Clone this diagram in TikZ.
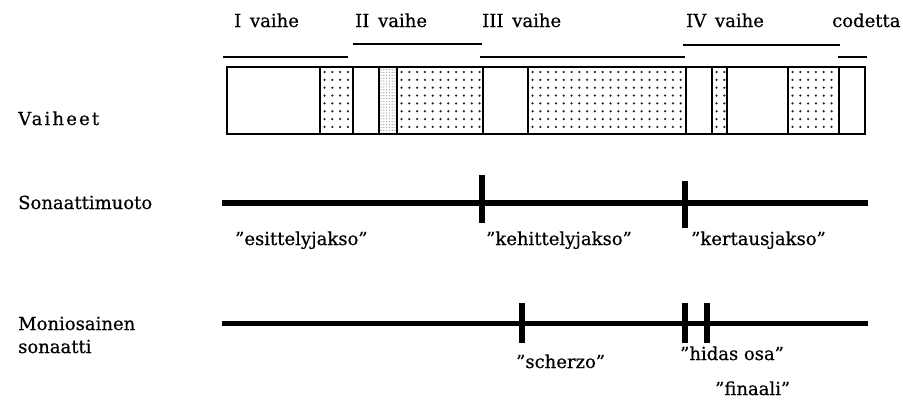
\documentclass[tikz,border=0pt]{standalone}
\usepackage{fontspec}
\setmainfont[FakeBold=0.6,BoldFont=*]{DejaVu Serif}
\newfontfamily\spaced[LetterSpace=12,FakeBold=0.6]{DejaVu Serif}
\begin{document}
\begin{tikzpicture}[x=1pt,y=-1pt,
  lab/.style={inner sep=0pt, anchor=base west, font=\fontsize{18}{21}\selectfont},
  bracket/.style={line width=2.4pt},
  boxline/.style={line width=1.9pt},
  axis/.style={line width=5.5pt},
  tick/.style={line width=6pt},
  dotc/.style={fill=black!85}
]
\useasboundingbox (0,0) rectangle (903,407);

% top labels
\node[lab] (v1) at (234,27) {I\, vaihe};
\node[lab] (v2) at (355,27) {II\, vaihe};
\node[lab] (v3) at (482,27) {III\, vaihe};
\node[lab] (v4) at (686,27) {IV\, vaihe};
\node[lab] (cod) at (832,27) {codetta};

% brackets
\draw[bracket] (223,57) -- (348,57);
\draw[bracket] (353,44) -- (482,44);
\draw[bracket] (480,57) -- (685,57);
\draw[bracket] (683,45) -- (840,45);
\draw[bracket] (838,57) -- (867,57);

% dotted fills
\newcommand{\dotsin}[2]{%
  \begin{scope}
    \clip (#1,68) rectangle (#2,133);
    \foreach \xx in {0,...,30}{
      \foreach \yy in {0,...,7}{
        \fill[dotc] ({#1+4.5+\xx*7.8},{72+\yy*7.85}) circle (1.25pt);
      }
    }
  \end{scope}}
\dotsin{320}{353}
\dotsin{397}{483}
\dotsin{528}{686}
\dotsin{712}{727}
\dotsin{788}{839}
% light fine strip
\begin{scope}
  \clip (379.3,68) rectangle (397,133);
  \foreach \xx in {0,...,6}{
    \foreach \yy in {0,...,22}{
      \fill[black!35] ({381+\xx*2.8},{69.5+\yy*2.9}) circle (0.7pt);
    }
  }
\end{scope}

% box
\draw[boxline] (227,67) rectangle (865,134);
\foreach \xx in {320,352.7,379.3,397,483,528,686,712.3,726.7,788.3,839.3}{
  \draw[boxline] (\xx,67) -- (\xx,134);
}

% left labels
\node[lab] (vai) at (18,125) {\spaced Vaiheet};
\node[lab] (son) at (18,209) {Sonaattimuoto};
\node[lab] (mon) at (18,330) {Moniosainen};
\node[lab] (son2) at (18,353) {sonaatti};

% sonata form line
\coordinate (s0) at (222,203);
\coordinate (s1) at (868,203);
\draw[axis] (s0) -- (s1);
\draw[tick] (481.7,175) -- (481.7,223);
\draw[tick] (685,181) -- (685,228);
\node[lab] (esi) at (235,245) {”esittelyjakso”};
\node[lab] (keh) at (486,245) {”kehittelyjakso”};
\node[lab] (ker) at (691,245) {”kertausjakso”};

% one-movement sonata line
\coordinate (m0) at (222,323.5);
\coordinate (m1) at (868,323.5);
\draw[axis] (m0) -- (m1);
\draw[tick] (521.7,303) -- (521.7,343);
\draw[tick] (685,303) -- (685,343);
\draw[tick] (706.7,303) -- (706.7,343);
\node[lab] (sch) at (516,368) {”scherzo”};
\node[lab] (hid) at (680,360) {”hidas osa”};
\node[lab] (fin) at (715,395) {”finaali”};
\end{tikzpicture}
\end{document}
